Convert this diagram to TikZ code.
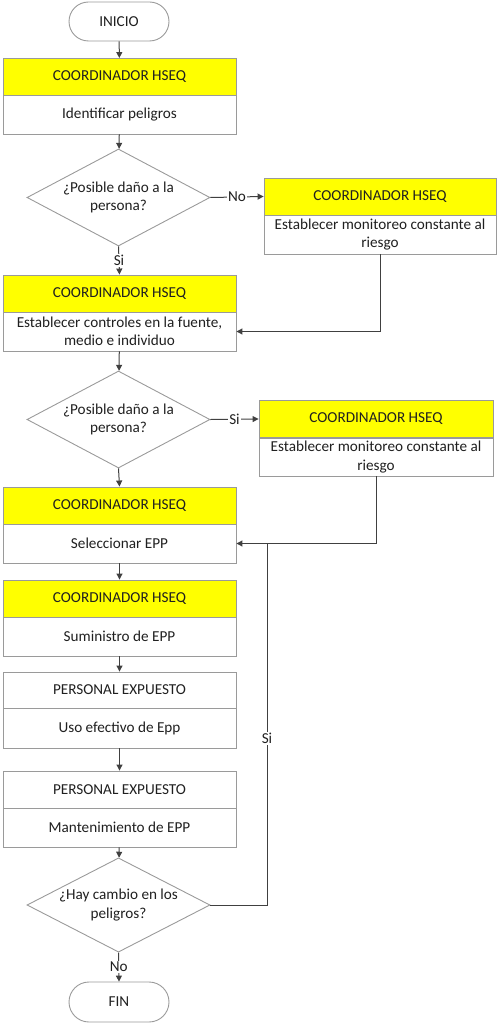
\documentclass[tikz,border=0pt]{standalone}
\usepackage{fontspec}
\setmainfont{Carlito}
\usetikzlibrary{shapes.geometric,shapes.misc,arrows.meta}
\definecolor{bordc}{HTML}{9A9A9A}
\definecolor{linec}{HTML}{404040}
\definecolor{hyel}{HTML}{FFFF00}
\definecolor{txtc}{HTML}{202020}
\begin{document}
\begin{tikzpicture}[x=1pt,y=-1pt,
  every node/.style={font=\fontsize{15.2}{18.5}\selectfont, text=txtc},
  term/.style={rounded rectangle, draw=bordc, line width=0.9pt, minimum width=100pt, minimum height=39pt, inner sep=0pt},
  hdr/.style={rectangle, draw=bordc, line width=0.9pt, fill=hyel, minimum width=233pt, minimum height=37pt, inner sep=0pt},
  hdrw/.style={rectangle, draw=bordc, line width=0.9pt, fill=white, minimum width=233pt, minimum height=37pt, inner sep=0pt},
  bod/.style={rectangle, draw=bordc, line width=0.9pt, fill=white, minimum width=233pt, minimum height=39pt, inner sep=0pt, align=center},
  dec/.style={diamond, draw=bordc, line width=0.9pt, aspect=1.9, minimum width=183pt, minimum height=97pt, inner sep=0pt, align=center},
  arr/.style={draw=linec, line width=1pt, -{Triangle[length=6pt,width=6pt]}},
  lbl/.style={fill=white, inner sep=1pt}
]
\useasboundingbox (0,0) rectangle (500,1024);

\node[term] (ini) at (119,21.5) {INICIO};
\node[hdr] (b1h) at (119.5,77) {COORDINADOR HSEQ};
\node[bod] (b1b) at (119.5,114.5) {Identificar peligros};

\node[dec] (d1) at (118.5,197.5) {¿Posible daño a la\\persona?};

\node[hdr, minimum width=232pt] (r1h) at (380,196.5) {COORDINADOR HSEQ};
\node[bod, minimum width=232pt] (r1b) at (380,234.5) {Establecer monitoreo constante al\\riesgo};

\node[hdr] (b2h) at (119.5,293.5) {COORDINADOR HSEQ};
\node[bod] (b2b) at (119.5,331.5) {Establecer controles en la fuente,\\medio e individuo};

\node[dec] (d2) at (118.5,419.5) {¿Posible daño a la\\persona?};

\node[hdr, minimum width=234pt] (r2h) at (376,419) {COORDINADOR HSEQ};
\node[bod, minimum width=234pt, minimum height=38pt] (r2b) at (376,457) {Establecer monitoreo constante al\\riesgo};

\node[hdr] (b3h) at (119.5,505.5) {COORDINADOR HSEQ};
\node[bod] (b3b) at (119.5,543.5) {Seleccionar EPP};

\node[hdr] (b4h) at (119.5,598.5) {COORDINADOR HSEQ};
\node[bod] (b4b) at (119.5,636.5) {Suministro de EPP};

\node[hdrw, minimum height=36pt] (b5h) at (119.5,690) {PERSONAL EXPUESTO};
\node[bod, minimum height=40pt] (b5b) at (119.5,728) {Uso efectivo de Epp};

\node[hdrw] (b6h) at (119.5,789.5) {PERSONAL EXPUESTO};
\node[bod] (b6b) at (119.5,827.5) {Mantenimiento de EPP};

\node[dec, minimum height=84pt] (d3) at (118.5,905) {¿Hay cambio en los\\peligros?};

\node[term, minimum height=40pt] (fin) at (119,1002) {FIN};

\coordinate (lp) at (267,543.5);

\draw[arr] (ini) -- (b1h);
\draw[arr] (b1b) -- (d1);
\draw[arr] (d1.east) -- node[lbl] {No} (r1h.west);
\draw[arr] (d1.south) -- node[lbl] {Si} (b2h.north);
\draw[arr] (r1b.south) |- (b2b.east);
\draw[arr] (b2b) -- (d2);
\draw[arr] (d2.east) -- node[lbl] {Si} (r2h.west);
\draw[arr] (d2.south) -- (b3h.north);
\draw[arr] (r2b.south) |- (b3b.east);
\draw[arr] (b3b) -- (b4h);
\draw[arr] (b4b) -- (b5h);
\draw[arr] (b5b) -- (b6h);
\draw[arr] (b6b) -- (d3);
\draw[draw=linec, line width=1pt] (d3.east) -| node[lbl, pos=0.73] {Si} (lp);
\draw[arr] (d3.south) -- node[lbl] {No} (fin.north);
\end{tikzpicture}
\end{document}
